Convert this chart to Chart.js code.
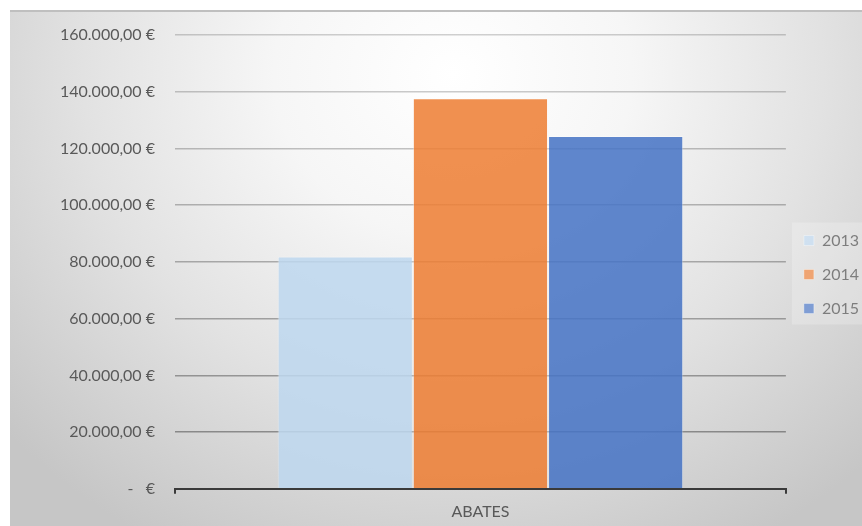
<!DOCTYPE html>
<html>
<head>
<meta charset="utf-8">
<script src="https://cdn.jsdelivr.net/npm/chart.js@4.4.1/dist/chart.umd.min.js"></script>
<style>
    html, body {
        margin: 0;
        padding: 0;
        background: #ffffff;
    }
    #panel {
        position: absolute;
        left: 10px;
        top: 10px;
        width: 852px;
        height: 516px;
        box-sizing: border-box;
        border-top: 2px solid #bfbfbf;
        background: radial-gradient(ellipse 70% 105% at 52% 12%, #ffffff 0%, #f6f6f6 30%, #e2e2e2 62%, #c6c6c6 100%);
    }
    #caja {
        position: relative;
        width: 852px;
        height: 514px;
    }
</style>
</head>
<body>
<div id="panel">
    <div id="caja"><canvas id="graficaAbates"></canvas></div>
</div>
<script>
// ==============================
// DATOS
// ==============================
const categorias = ["ABATES"];
const anios = ["2013", "2014", "2015"];
const importes2013 = [81900];
const importes2014 = [137700];
const importes2015 = [124400];
const ticksEje = [0, 20000, 40000, 60000, 80000, 100000, 120000, 140000, 160000];

const colores = [
    "rgba(189, 215, 238, 0.85)",
    "rgba(237, 125, 49, 0.85)",
    "rgba(68, 114, 196, 0.85)"
];

// formato contable: 160.000,00 €  /  -   €
function formatoEuro(valor) {
    if (valor === 0) return "-   €";
    const partes = valor.toFixed(2).split(".");
    const entero = partes[0].replace(/\B(?=(\d{3})+(?!\d))/g, ".");
    return entero + "," + partes[1] + " €";
}

// líneas de cuadrícula más oscuras hacia abajo
function colorCuadricula(c) {
    const alfa = 0.38 - 0.025 * c.index;
    return "rgba(0, 0, 0, " + alfa.toFixed(3) + ")";
}

// recuadro claro detrás de la leyenda
const fondoLeyenda = {
    id: "fondoLeyenda",
    beforeDatasetsDraw(chart) {
        const ley = chart.legend;
        if (!ley || !ley.legendHitBoxes.length) return;
        const cajas = ley.legendHitBoxes;
        const ctx = chart.ctx;
        const x = cajas[0].left - 12;
        const y = cajas[0].top - 10;
        const ult = cajas[cajas.length - 1];
        ctx.save();
        ctx.fillStyle = "rgba(255, 255, 255, 0.22)";
        ctx.fillRect(x, y, chart.width - x, ult.top + ult.height + 8 - y);
        ctx.restore();
    }
};

const conjuntos = [importes2013, importes2014, importes2015].map((serie, i) => ({
    label: anios[i],
    data: serie,
    backgroundColor: colores[i],
    borderColor: "rgba(255, 255, 255, 0.35)",
    borderWidth: 1,
    categoryPercentage: 0.664,
    barPercentage: 1.0
}));

new Chart(document.getElementById("graficaAbates"), {
    type: "bar",
    data: {
        labels: categorias,
        datasets: conjuntos
    },
    options: {
        responsive: true,
        maintainAspectRatio: false,
        animation: false,
        layout: {
            padding: { top: 8, left: 30, right: -7, bottom: -3 }
        },
        plugins: {
            title: { display: false },
            tooltip: { enabled: false },
            legend: {
                position: "right",
                align: "center",
                labels: {
                    boxWidth: 10,
                    boxHeight: 10,
                    padding: 18,
                    color: "#595959",
                    font: { family: "Lato", size: 16 }
                }
            }
        },
        scales: {
            x: {
                grid: {
                    display: true,
                    drawOnChartArea: false,
                    drawTicks: true,
                    tickLength: 5,
                    color: "#3a3a3a",
                    lineWidth: 2
                },
                border: { display: true, color: "#3a3a3a", width: 2 },
                ticks: {
                    color: "#595959",
                    padding: 8,
                    font: { family: "Lato", size: 16 }
                }
            },
            y: {
                min: 0,
                max: 160000,
                afterBuildTicks(eje) {
                    eje.ticks = ticksEje.map(v => ({ value: v }));
                },
                // margen superior fijo del área de trazado
                afterFit(eje) {
                    eje.paddingTop = 23;
                },
                grid: {
                    drawTicks: false,
                    color: colorCuadricula,
                    lineWidth: 1.5
                },
                border: { display: false },
                ticks: {
                    padding: 20,
                    color: "#595959",
                    font: { family: "Lato", size: 16 },
                    callback: v => formatoEuro(v)
                }
            }
        }
    },
    plugins: [fondoLeyenda]
});
</script>
</body>
</html>
